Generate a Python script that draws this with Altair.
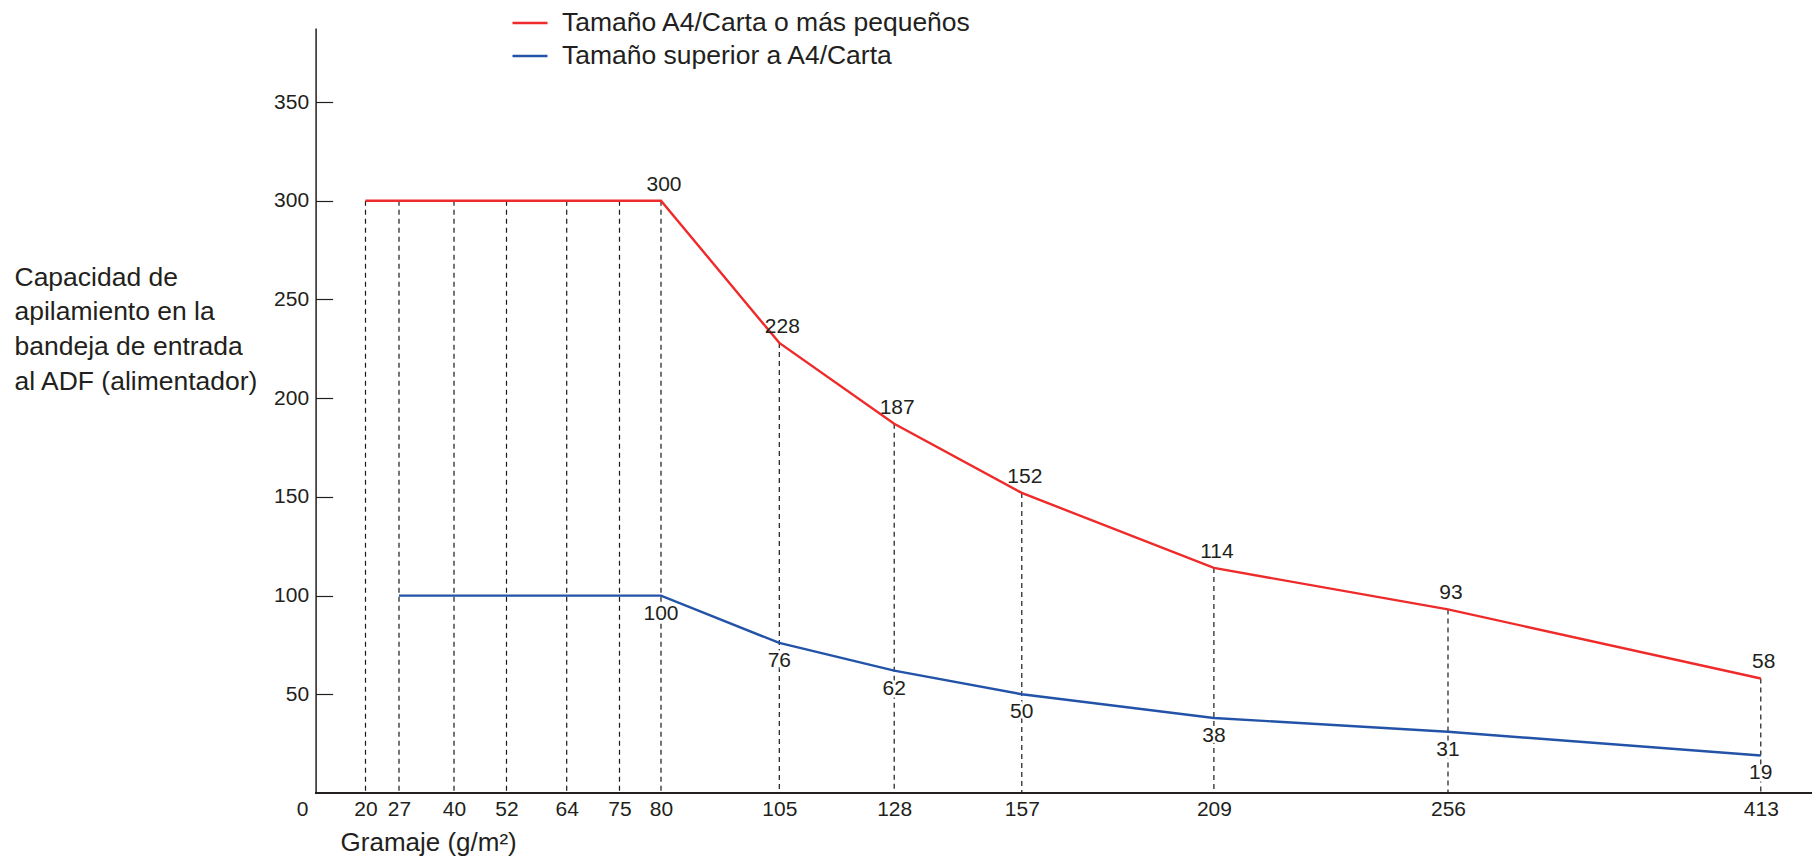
import altair as alt
import pandas as pd

# ---- data ----
gramaje_small = [20, 27, 40, 52, 64, 75, 80, 105, 128, 157, 209, 256, 413]
cap_small = [300, 300, 300, 300, 300, 300, 300, 228, 187, 152, 114, 93, 58]
gramaje_large = [27, 40, 52, 64, 75, 80, 105, 128, 157, 209, 256, 413]
cap_large = [100, 100, 100, 100, 100, 100, 76, 62, 50, 38, 31, 19]
labeled_gramaje = [80, 105, 128, 157, 209, 256, 413]
x_tick_values = [0, 20, 27, 40, 52, 64, 75, 80, 105, 128, 157, 209, 256, 413]
y_tick_values = [50, 100, 150, 200, 250, 300, 350]

serie_small = "Tamaño A4/Carta o más pequeños"
serie_large = "Tamaño superior a A4/Carta"
y_title = ["Capacidad de", "apilamiento en la", "bandeja de entrada", "al ADF (alimentador)"]
x_title = "Gramaje (g/m²)"

# ---- style ----
RED = "#EE2A2A"
BLUE = "#2253A8"
INK = "#231F20"
FONT = "Liberation Sans"

# piecewise (non-linear) gramaje axis, as in the reference
x_range = [-13.6, 49.9, 83.4, 138.4, 190.9, 251.1, 303.9, 345.4, 463.7,
           578.6, 706.2, 898.3, 1132.4, 1445.2]
W, H = 1496, 765

small = pd.DataFrame({"gramaje": gramaje_small, "cap": cap_small, "serie": serie_small})
large = pd.DataFrame({"gramaje": gramaje_large, "cap": cap_large, "serie": serie_large})
both = pd.concat([small, large], ignore_index=True)
small_lab = small[small["gramaje"].isin(labeled_gramaje)]
large_lab = large[large["gramaje"].isin(labeled_gramaje)]

xscale = alt.Scale(domain=x_tick_values, range=x_range, zero=False, nice=False)
yscale = alt.Scale(domain=[0, 387.5], zero=False, nice=False)

x_axis = alt.Axis(
    values=x_tick_values, ticks=False, domain=False, grid=False,
    labelFontSize=21, labelPadding=6, labelOverlap=False, labelFlush=False,
    labelColor=INK, labelFont=FONT,
    title=x_title, titleFontSize=26, titleFontWeight="normal", titleColor=INK,
    titleFont=FONT, titleAlign="left", titleBaseline="alphabetic",
    titleX=24.5, titleY=58, titleAnchor="start")

x_enc = alt.X("gramaje:Q", scale=xscale, axis=x_axis)
y_none = alt.Y("cap:Q", scale=yscale, axis=None)

# dashed drop lines (this layer carries the inside y ticks)
dashed = alt.Chart(small).mark_rule(
    color="#1A1A1A", strokeWidth=1.2, strokeDash=[5, 4]
).encode(
    x=x_enc,
    y=alt.Y("cap:Q", scale=yscale, axis=alt.Axis(
        orient="left", offset=-17, values=y_tick_values, ticks=True, tickSize=17,
        tickColor=INK, tickWidth=1.2, labels=False, domain=False, grid=False, title=None)),
    y2=alt.datum(0),
)

baseline = alt.Chart(small).mark_rule(color=INK, strokeWidth=2).encode(
    y=alt.Y(datum=0, scale=yscale, axis=None)
)

lines = alt.Chart(both).mark_line(strokeWidth=2.4).encode(
    x=x_enc,
    y=alt.Y("cap:Q", scale=yscale, axis=alt.Axis(
        orient="left", values=y_tick_values, ticks=False, domain=True, domainColor=INK,
        domainWidth=1.5, grid=False, labelFontSize=21, labelPadding=7,
        labelColor=INK, labelFont=FONT,
        title=y_title, titleAngle=0, titleAlign="left", titleBaseline="top",
        titleX=-301.6, titleY=236, titleFontSize=26.5, titleFontWeight="normal",
        titleColor=INK, titleFont=FONT, titleLineHeight=34.7)),
    color=alt.Color("serie:N", scale=alt.Scale(domain=[serie_small, serie_large],
                                               range=[RED, BLUE]),
                    legend=alt.Legend(orient="none", legendX=195.4, legendY=-24,
                                      title=None, symbolType="stroke",
                                      symbolSize=1225, symbolStrokeWidth=2.5,
                                      labelFontSize=26.5, labelOffset=13,
                                      labelLimit=800, rowPadding=0,
                                      labelColor=INK, labelFont=FONT)),
    order="gramaje:Q",
)

red_text = alt.Chart(small_lab).mark_text(
    fontSize=21, font=FONT, color=INK, baseline="alphabetic", dy=-10, dx=3
).encode(x=x_enc, y=y_none, text="cap:Q")

blue_halo = alt.Chart(large_lab).mark_text(
    fontSize=21, font=FONT, color="white", stroke="white", strokeWidth=5,
    baseline="top", dy=7
).encode(x=x_enc, y=y_none, text="cap:Q")

blue_text = alt.Chart(large_lab).mark_text(
    fontSize=21, font=FONT, color=INK, baseline="top", dy=7
).encode(x=x_enc, y=y_none, text="cap:Q")

chart = alt.layer(
    dashed, baseline, lines, blue_halo, blue_text, red_text
).resolve_axis(y="independent").properties(
    width=W, height=H,
    autosize=alt.AutoSizeParams(type="none"),
    padding={"left": 307.6, "top": 20, "right": 0, "bottom": 65},
).configure(font=FONT).configure_view(stroke=None)

chart.save("out.html", embed_options={"renderer": "svg", "actions": False})
